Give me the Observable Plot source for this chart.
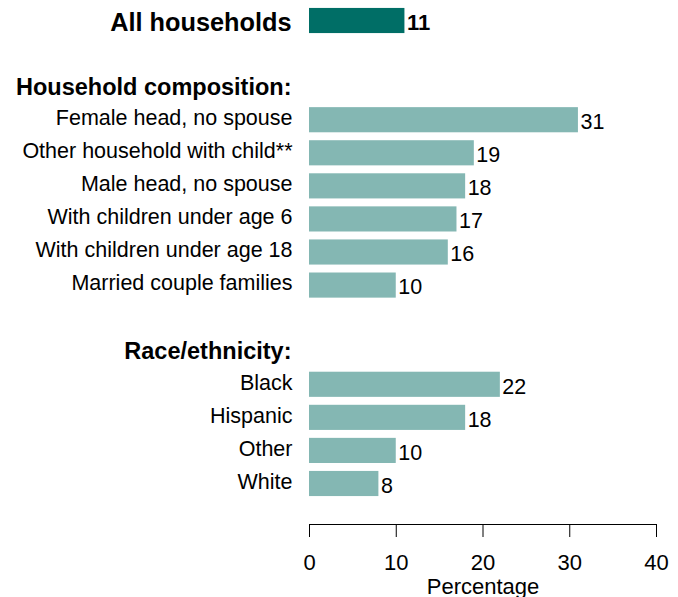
<!DOCTYPE html>
<html>
<head>
<meta charset="utf-8">
<script src="https://cdn.jsdelivr.net/npm/d3@7"></script>
<script src="https://cdn.jsdelivr.net/npm/@observablehq/plot@0.6"></script>
<style>
  body { margin: 0; background: #fff; }
</style>
</head>
<body>
<div id="chart"></div>
<script>
// Data
const allLabel = "All households";
const allValue = 11;
const compHeader = "Household composition:";
const compCategories = ["Female head, no spouse", "Other household with child**", "Male head, no spouse", "With children under age 6", "With children under age 18", "Married couple families"];
const compValues = [31, 19, 18, 17, 16, 10];
const raceHeader = "Race/ethnicity:";
const raceCategories = ["Black", "Hispanic", "Other", "White"];
const raceValues = [22, 18, 10, 8];
const xTicks = [0, 10, 20, 30, 40];
const xLabel = "Percentage";

// Build rows (spacers use unique blank keys)
const rows = [];
rows.push({key: allLabel, label: allLabel, value: allValue, kind: "total"});
rows.push({key: "_s1", label: "", value: null, kind: "spacer"});
rows.push({key: "_h1", label: compHeader, value: null, kind: "header"});
compCategories.forEach((c, i) => rows.push({key: "c_" + c, label: c, value: compValues[i], kind: "item"}));
rows.push({key: "_s2", label: "", value: null, kind: "spacer"});
rows.push({key: "_h2", label: raceHeader, value: null, kind: "header"});
raceCategories.forEach((c, i) => rows.push({key: "r_" + c, label: c, value: raceValues[i], kind: "item"}));

const bars = rows.filter(d => d.value != null);

const dark = "#006e66";
const light = "#84b7b3";

const chart = Plot.plot({
  width: 678,
  height: 597,
  marginLeft: 309,
  marginRight: 22,
  marginTop: 0,
  marginBottom: 73,
  style: {fontFamily: "'Liberation Sans', Arial, Helvetica, sans-serif", fontSize: "21px", color: "#000", background: "#fff"},
  x: {domain: [0, 40]},
  y: {domain: rows.map(d => d.key), padding: 0.24, insetBottom: 20, round: false, axis: null},
  marks: [
    Plot.barX(bars, {x: "value", y: "key", fill: d => d.kind === "total" ? dark : light}),
    Plot.text(bars.filter(d => d.kind === "item"), {x: "value", y: "key", text: d => String(d.value), textAnchor: "start", dx: 2, dy: 2,
      fontSize: 21.5, fill: "#000"}),
    Plot.text(bars.filter(d => d.kind === "total"), {x: "value", y: "key", text: d => String(d.value), textAnchor: "start", dx: 2, dy: 2,
      fontSize: 22, fontWeight: "bold", fill: "#000"}),
    Plot.text(rows.filter(d => d.kind === "item"), {x: 0, y: "key", text: "label", textAnchor: "end", dx: -17, dy: -2, fontSize: 21.5, fill: "#000"}),
    Plot.text(rows.filter(d => d.kind === "header"), {x: 0, y: "key", text: "label", textAnchor: "end", dx: -18, fontSize: 23.5, fontWeight: "bold", fill: "#000"}),
    Plot.text(rows.filter(d => d.kind === "total"), {x: 0, y: "key", text: "label", textAnchor: "end", dx: -18, dy: 2, fontSize: 25.3, fontWeight: "bold", fill: "#000"}),
    Plot.frame({anchor: "bottom", stroke: "#000"}),
    Plot.axisX({ticks: xTicks, tickSize: 13, tickPadding: 17, fontSize: 22, label: xLabel, labelAnchor: "center", labelOffset: 69, labelArrow: "none"})
  ]
});
document.getElementById("chart").appendChild(chart);
</script>
</body>
</html>
